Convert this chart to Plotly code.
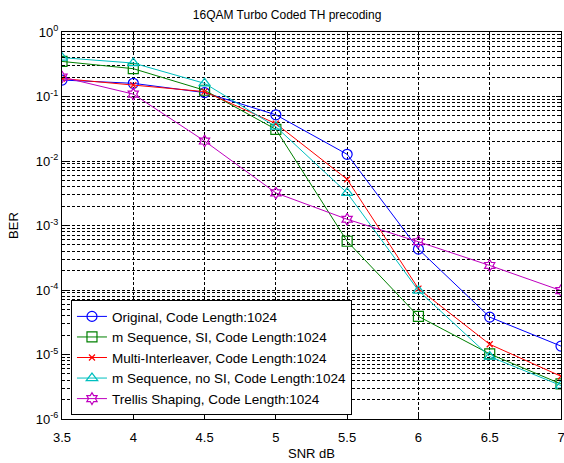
import plotly.graph_objects as go

snr = [3.5, 4.0, 4.5, 5.0, 5.5, 6.0, 6.5, 7.0]

original = [0.18, 0.16, 0.115, 0.052, 0.0127, 0.00043, 3.8e-5, 1.35e-5]
m_seq_si = [0.35, 0.27, 0.125, 0.031, 0.00057, 3.9e-5, 1.02e-5, 3.5e-6]
multi_il = [0.19, 0.15, 0.119, 0.038, 0.0052, 1.05e-4, 1.44e-5, 4.6e-6]
m_seq_nosi = [0.40, 0.33, 0.16, 0.034, 0.0032, 9.8e-5, 9.3e-6, 3.3e-6]
trellis = [0.20, 0.109, 0.0204, 0.0032, 0.00125, 0.00056, 0.00024, 9.8e-5]

names = [
    "Original, Code Length:1024",
    "m Sequence, SI, Code Length:1024",
    "Multi-Interleaver, Code Length:1024",
    "m Sequence, no SI, Code Length:1024",
    "Trellis Shaping, Code Length:1024",
]
colors = ["#0000ff", "#008000", "#ff0000", "#00bfbf", "#bf00bf"]
symbols = ["circle-open", "square-open", "x-thin-open", "triangle-up-open", "hexagram-open"]
sizes = [10, 10, 6, 10, 9]
series = [original, m_seq_si, multi_il, m_seq_nosi, trellis]

x_ticks = [3.5, 4, 4.5, 5, 5.5, 6, 6.5, 7]
x_ticktext = ["3.5", "4", "4.5", "5", "5.5", "6", "6.5", "7"]
y_ticks = [1e-6, 1e-5, 1e-4, 1e-3, 1e-2, 1e-1, 1]
y_ticktext = ["10<sup>-6</sup>", "10<sup>-5</sup>", "10<sup>-4</sup>", "10<sup>-3</sup>",
              "10<sup>-2</sup>", "10<sup>-1</sup>", "10<sup>0</sup>"]

fig = go.Figure()
for s, n, c, m, sz in zip(series, names, colors, symbols, sizes):
    fig.add_trace(go.Scatter(
        x=snr, y=s, name=n, mode="lines+markers",
        line=dict(color=c, width=1),
        marker=dict(symbol=m, size=sz, color=c, line=dict(color=c, width=1.2)),
    ))

grid = dict(gridcolor="#000000", griddash="3px,2px", gridwidth=1)

fig.update_layout(
    width=564, height=463,
    margin=dict(l=62, r=3, t=32, b=44),
    paper_bgcolor="white", plot_bgcolor="white",
    font=dict(family="Liberation Sans, Arial, sans-serif", size=13, color="black"),
    title=dict(text="16QAM Turbo Coded TH precoding", x=0.509, xanchor="center",
               y=0.968, yanchor="middle", font=dict(size=12)),
    showlegend=True,
    legend=dict(x=0.018, y=0.01, xanchor="left", yanchor="bottom",
                bgcolor="white", bordercolor="black", borderwidth=1,
                font=dict(size=13.5), tracegroupgap=0, itemwidth=30),
    xaxis=dict(range=[3.5, 7.0], tickvals=x_ticks, ticktext=x_ticktext,
               showline=True, linecolor="black", mirror="allticks",
               ticks="inside", ticklen=5, tickcolor="black", ticklabelstandoff=6,
               ticklabeloverflow="allow",
               showgrid=True, zeroline=False, automargin=False,
               title=dict(text="SNR dB", standoff=5, font=dict(size=13)),
               **grid),
    yaxis=dict(type="log", range=[-6, 0], tickvals=y_ticks, ticktext=y_ticktext,
               showline=True, linecolor="black", mirror="allticks",
               ticks="inside", ticklen=5, tickcolor="black",
               ticklabeloverflow="allow",
               showgrid=True, zeroline=False, automargin=False,
               title=dict(text="BER", standoff=14, font=dict(size=13)),
               minor=dict(dtick="D1", showgrid=True, ticks="inside", ticklen=3,
                          tickcolor="black", **grid),
               **grid),
)

fig.write_html("out.html", config={"displayModeBar": False},
               post_script="document.body.style.margin='0';")
